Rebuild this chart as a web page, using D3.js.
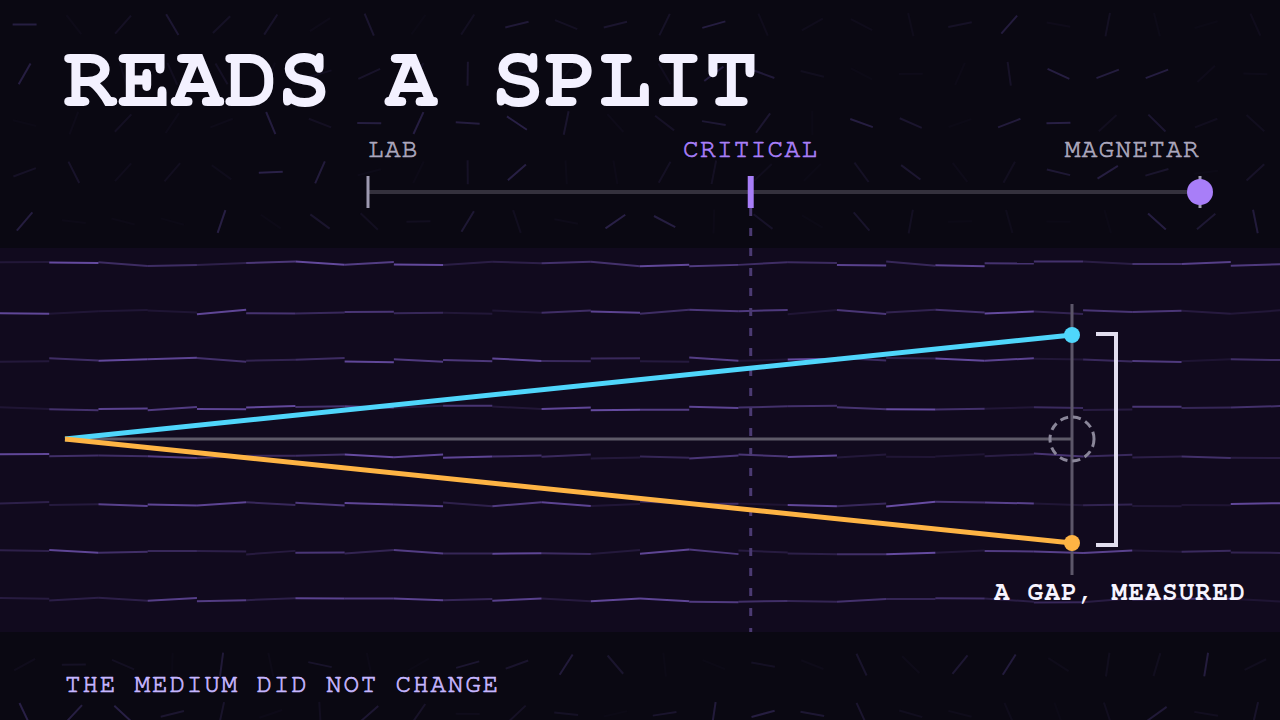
<!DOCTYPE html>
<html>
<head>
<meta charset="utf-8">
<script src="https://cdn.jsdelivr.net/npm/d3@7"></script>
<style>
    html, body { margin: 0; padding: 0; background: #0a0812; }
    svg { display: block; }
    text { font-family: "Nimbus Mono PS", "FreeMono", "TeX Gyre Cursor", "Courier 10 Pitch", "Courier New", Courier, "Liberation Mono", monospace; }
</style>
</head>
<body>
<div id="chart"></div>
<script>
// Slider stops (field strength, normalised)
var stop_labels     =   [ 'LAB', 'CRITICAL', 'MAGNETAR' ];
var stop_values     =   [ 0, 0.46, 1 ];
var current_value   =   1;

// The two rays: position along the path and their transverse offset
var path_x          =   [ 0, 1 ];
var fast_ray        =   [ 0, 1 ];
var slow_ray        =   [ 0, -1 ];
var base_ray        =   [ 0, 0 ];

var title_text      =   'READS A SPLIT';
var gap_text        =   'A GAP, MEASURED';
var foot_text       =   'THE MEDIUM DID NOT CHANGE';

var chart_width     =   1280;
var chart_height    =   720;

var svg             =   d3.select( '#chart' )
    .append( 'svg' )
    .attr( 'width', chart_width )
    .attr( 'height', chart_height );

// little seeded generator, only for the background texture
var seed = 7;
function rnd(){
    seed = ( seed * 16807 ) % 2147483647;
    return ( seed - 1 ) / 2147483646;
}

// Background
svg.append( 'rect' )
    .attr( 'width', chart_width )
    .attr( 'height', chart_height )
    .attr( 'fill', '#0a0812' );

var cell = chart_width / 26;
var bg_ticks = svg.append( 'g' ).attr( 'class', 'bg-ticks' );
for( var j = 0; j < 15; j++ ){
    for( var i = 0; i < 26; i++ ){
        var cx = ( i + 0.5 ) * cell, cy = ( j + 0.5 ) * cell;
        var a = rnd() * Math.PI, len = 12;
        var op = rnd();
        bg_ticks.append( 'line' )
            .attr( 'x1', cx - Math.cos(a) * len )
            .attr( 'y1', cy - Math.sin(a) * len )
            .attr( 'x2', cx + Math.cos(a) * len )
            .attr( 'y2', cy + Math.sin(a) * len )
            .attr( 'stroke', '#2b2249' )
            .attr( 'stroke-width', 2 )
            .attr( 'opacity', 0.08 + op * op * 0.92 );
    }
}

// Medium band
var band_top = 248, band_h = 384;
svg.append( 'rect' )
    .attr( 'x', 0 )
    .attr( 'y', band_top )
    .attr( 'width', chart_width )
    .attr( 'height', band_h )
    .attr( 'fill', '#110a1e' );

var band_rows = svg.append( 'g' ).attr( 'class', 'band-rows' );
for( var r = 0; r < 8; r++ ){
    var ry = band_top + 16 + r * 48;
    var y_prev = ry + ( rnd() - 0.5 ) * 5;
    for( var k = 0; k < 26; k++ ){
        var y_next = ry + ( rnd() - 0.5 ) * 5;
        band_rows.append( 'line' )
            .attr( 'x1', k * cell )
            .attr( 'y1', ( rnd() < 0.5 ) ? y_prev : ry + ( rnd() - 0.5 ) * 5 )
            .attr( 'x2', ( k + 1 ) * cell )
            .attr( 'y2', y_next )
            .attr( 'stroke', '#6c50aa' )
            .attr( 'stroke-width', 2 )
            .attr( 'opacity', 0.15 + rnd() * 0.8 );
        y_prev = y_next;
    }
}

// Title
svg.append( 'text' )
    .attr( 'x', 64 )
    .attr( 'y', 106 )
    .attr( 'fill', '#f3f1ff' )
    .attr( 'font-size', 89 )
    .attr( 'font-weight', 'bold' )
    .text( title_text );

// Slider scale
var s_scale         =   d3.scaleLinear()
    .domain([ 0, 1 ])
    .range([ 368, 1200 ]);
var slider_y = 192;

svg.append( 'line' )
    .attr( 'x1', s_scale(0) )
    .attr( 'x2', s_scale(1) )
    .attr( 'y1', slider_y )
    .attr( 'y2', slider_y )
    .attr( 'stroke', '#34313d' )
    .attr( 'stroke-width', 4 );

// Critical guide line through the medium
svg.append( 'line' )
    .attr( 'x1', s_scale(stop_values[1]) )
    .attr( 'x2', s_scale(stop_values[1]) )
    .attr( 'y1', 208 )
    .attr( 'y2', band_top + band_h )
    .attr( 'stroke', '#4b3a72' )
    .attr( 'stroke-width', 3 )
    .attr( 'stroke-dasharray', '8 12' );

var stops = svg.append( 'g' ).selectAll( 'g' )
    .data( stop_labels )
    .enter()
    .append( 'g' );

stops.append( 'line' )
    .attr( 'x1', function(d, i){ return s_scale(stop_values[i]); })
    .attr( 'x2', function(d, i){ return s_scale(stop_values[i]); })
    .attr( 'y1', 176 )
    .attr( 'y2', 208 )
    .attr( 'stroke', function(d, i){ return i === 1 ? '#a87ef8' : '#9d99b0'; })
    .attr( 'stroke-width', function(d, i){ return i === 1 ? 6 : 3; });

stops.append( 'text' )
    .attr( 'x', function(d, i){ return s_scale(stop_values[i]); })
    .attr( 'y', 157 )
    .attr( 'text-anchor', function(d, i){ return [ 'start', 'middle', 'end' ][i]; })
    .attr( 'fill', function(d, i){ return i === 1 ? '#a87ef8' : '#aba7bd'; })
    .attr( 'stroke', function(d, i){ return i === 1 ? '#a87ef8' : '#aba7bd'; })
    .attr( 'stroke-width', 0.7 )
    .attr( 'font-size', 26 )
    .attr( 'letter-spacing', 1.3 )
    .text( function(d){ return d; });

svg.append( 'circle' )
    .attr( 'cx', s_scale(current_value) )
    .attr( 'cy', slider_y )
    .attr( 'r', 13 )
    .attr( 'fill', '#a87ef8' );

// Rays
var x_scale         =   d3.scaleLinear()
    .domain([ 0, 1 ])
    .range([ 65, 1072 ]);
var y_scale         =   d3.scaleLinear()
    .domain([ -1, 1 ])
    .range([ 543, 335 ]);

var ray_line = d3.line()
    .x(function(d, i){ return x_scale(path_x[i]); })
    .y(function(d){ return y_scale(d); });

svg.append( 'line' )
    .attr( 'x1', x_scale(1) )
    .attr( 'x2', x_scale(1) )
    .attr( 'y1', y_scale(1) - 31 )
    .attr( 'y2', y_scale(-1) + 32 )
    .attr( 'stroke', '#5c5669' )
    .attr( 'stroke-width', 3 );

svg.append( 'path' )
    .attr( 'd', ray_line(base_ray) )
    .attr( 'stroke', '#5e5a68' )
    .attr( 'stroke-width', 3 )
    .attr( 'fill', 'none' );

svg.append( 'circle' )
    .attr( 'cx', x_scale(1) )
    .attr( 'cy', y_scale(0) )
    .attr( 'r', 22 )
    .attr( 'fill', 'none' )
    .attr( 'stroke', '#8a8699' )
    .attr( 'stroke-width', 3 )
    .attr( 'stroke-dasharray', '8 5' );

var rays = [
    { values: fast_ray, color: '#4fd6fb' },
    { values: slow_ray, color: '#feb444' }
];

svg.append( 'g' ).selectAll( 'path' )
    .data( rays )
    .enter()
    .append( 'path' )
    .attr( 'd', function(d){ return ray_line(d.values); })
    .attr( 'stroke', function(d){ return d.color; })
    .attr( 'stroke-width', 5 )
    .attr( 'stroke-linecap', 'butt' )
    .attr( 'fill', 'none' );

svg.append( 'g' ).selectAll( 'circle' )
    .data( rays )
    .enter()
    .append( 'circle' )
    .attr( 'cx', x_scale(1) )
    .attr( 'cy', function(d){ return y_scale(d.values[1]); })
    .attr( 'r', 8 )
    .attr( 'fill', function(d){ return d.color; });

// Gap bracket
var b_top = y_scale(1) - 1, b_bot = y_scale(-1) + 2;
svg.append( 'path' )
    .attr( 'd', 'M1096,' + b_top + 'H1116V' + b_bot + 'H1096' )
    .attr( 'stroke', '#e2deef' )
    .attr( 'stroke-width', 4 )
    .attr( 'fill', 'none' );

svg.append( 'text' )
    .attr( 'x', 1246 )
    .attr( 'y', 600 )
    .attr( 'text-anchor', 'end' )
    .attr( 'fill', '#f6f4ff' )
    .attr( 'font-size', 26 )
    .attr( 'font-weight', 'bold' )
    .attr( 'letter-spacing', 1.2 )
    .text( gap_text );

svg.append( 'text' )
    .attr( 'x', 65 )
    .attr( 'y', 692 )
    .attr( 'fill', '#c6b6ff' )
    .attr( 'stroke', '#c6b6ff' )
    .attr( 'stroke-width', 0.7 )
    .attr( 'font-size', 26 )
    .attr( 'letter-spacing', 1.8 )
    .text( foot_text );
</script>
</body>
</html>
